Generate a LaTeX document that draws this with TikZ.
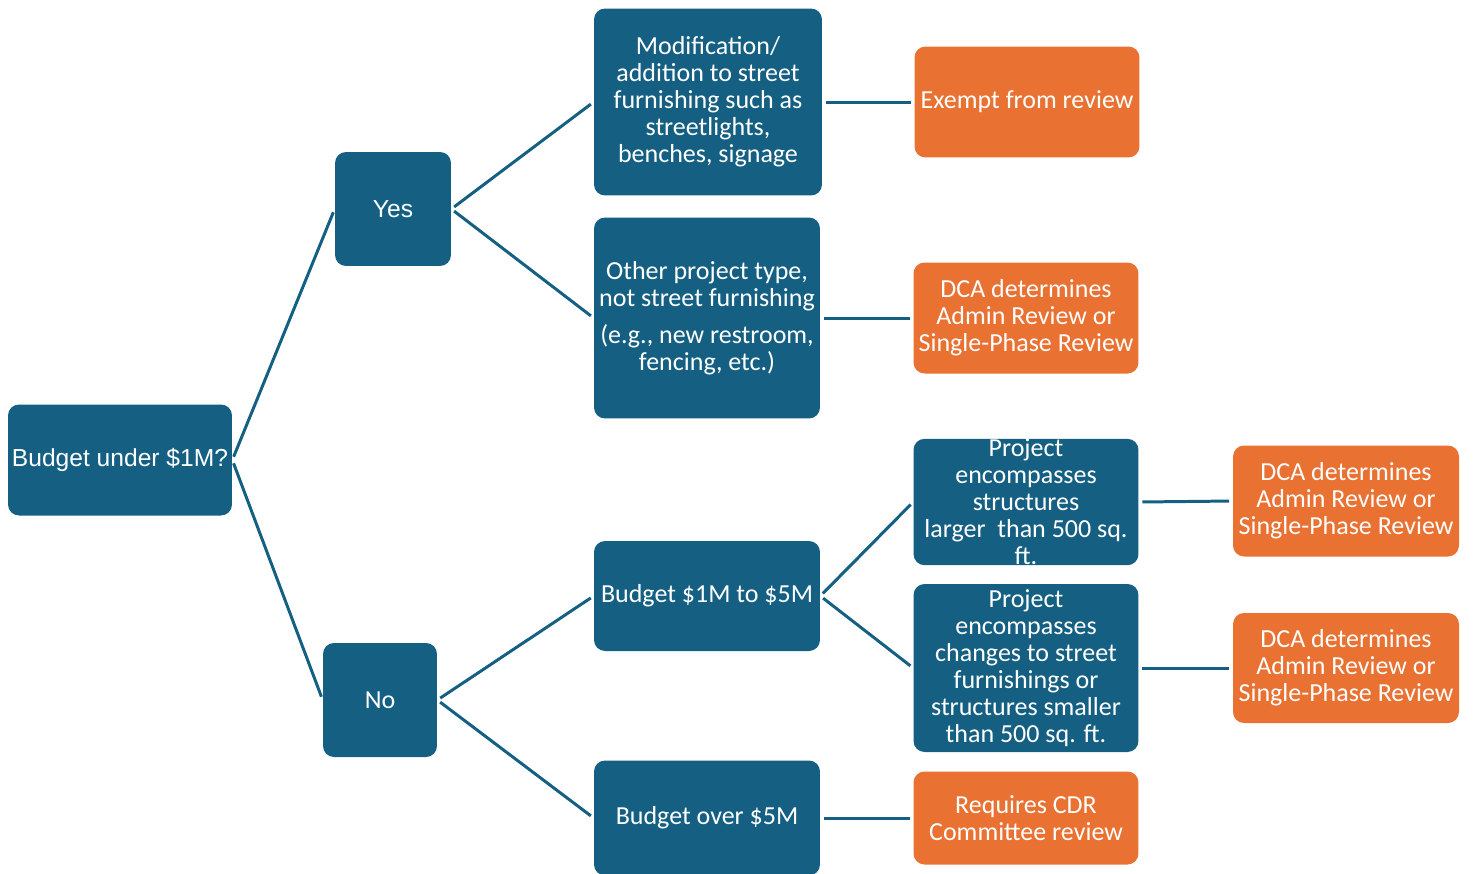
\documentclass[tikz,border=0pt]{standalone}
\usepackage{fontspec}
\setmainfont{Carlito}
\newfontfamily\arialfont{Liberation Sans}
\usetikzlibrary{positioning}
\definecolor{boxblue}{HTML}{156082}
\definecolor{boxorange}{HTML}{E97132}

\begin{document}
\begin{tikzpicture}[x=0.02cm, y=-0.02cm,
    bluebox/.style={fill=boxblue, rounded corners=0.22cm, text=white, align=center,
      inner sep=0pt, font=\fontsize{14.8}{15.4}\selectfont},
    orangebox/.style={bluebox, fill=boxorange},
    link/.style={draw=boxblue, line width=1.7pt, shorten <=2pt, shorten >=2pt}]
  \useasboundingbox (0,0) rectangle (1476,873);

  % first question and its answers
  \node[bluebox, minimum width=4.48cm, minimum height=2.22cm, font=\arialfont\fontsize{14}{15.4}\selectfont] (root) at (120,460) {Budget under \$1M?};
  \node[bluebox, minimum width=2.32cm, minimum height=2.28cm, font=\arialfont\fontsize{14}{15.4}\selectfont] (yes) at (393,209) {Yes};
  \node[bluebox, minimum width=2.28cm, minimum height=2.28cm] (no) at (380,700) {No};

  % project types and budgets
  \node[bluebox, minimum width=4.56cm, minimum height=3.74cm] (furnish) at (708,102)
    {Modification/\\addition to street\\furnishing such as\\streetlights,\\benches, signage};
  \node[bluebox, minimum width=4.52cm, minimum height=4.02cm] (other) at (707,318)
    {Other project type,\\not street furnishing\\[0.2cm](e.g., new restroom,\\fencing, etc.)};
  \node[bluebox, minimum width=4.52cm, minimum height=2.2cm] (mid) at (707,596) {Budget \$1M to \$5M};
  \node[bluebox, minimum width=4.52cm, minimum height=2.3cm] (over) at (707,818) {Budget over \$5M};

  % structures for the middle budget
  \node[bluebox, minimum width=4.5cm, minimum height=2.48cm] (large) at (1026,502)
    {Project\\encompasses\\structures\\larger\ \ than 500 sq.\\ft.};
  \node[bluebox, minimum width=4.5cm, minimum height=3.36cm] (small) at (1026,668)
    {Project\\encompasses\\changes to street\\furnishings or\\structures smaller\\than 500 sq. ft.};

  % outcomes
  \node[orangebox, minimum width=4.5cm, minimum height=2.22cm] (exempt) at (1027,102) {Exempt from review};
  \node[orangebox, minimum width=4.5cm, minimum height=2.22cm] (dcaother) at (1026,318)
    {DCA determines\\Admin Review or\\Single-Phase Review};
  \node[orangebox, minimum width=4.5cm, minimum height=1.86cm] (cdr) at (1026,818)
    {Requires CDR\\Committee review};
  \node[orangebox, minimum width=4.52cm, minimum height=2.22cm] (dcalarge) at (1346,501)
    {DCA determines\\Admin Review or\\Single-Phase Review};
  \node[orangebox, minimum width=4.52cm, minimum height=2.2cm] (dcasmall) at (1346,668)
    {DCA determines\\Admin Review or\\Single-Phase Review};

  % connectors
  \draw[link] (root.east) -- (yes.west);
  \draw[link] (root.east) -- (no.west);
  \draw[link] (yes.east) -- (furnish.west);
  \draw[link] (yes.east) -- (other.west);
  \draw[link] (no.east) -- (mid.west);
  \draw[link] (no.east) -- (over.west);
  \draw[link] (mid.east) -- (large.west);
  \draw[link] (mid.east) -- (small.west);
  \draw[link] (furnish.east) -- (exempt.west);
  \draw[link] (other.east) -- (dcaother.west);
  \draw[link] (over.east) -- (cdr.west);
  \draw[link] (large.east) -- (dcalarge.west);
  \draw[link] (small.east) -- (dcasmall.west);
\end{tikzpicture}
\end{document}
